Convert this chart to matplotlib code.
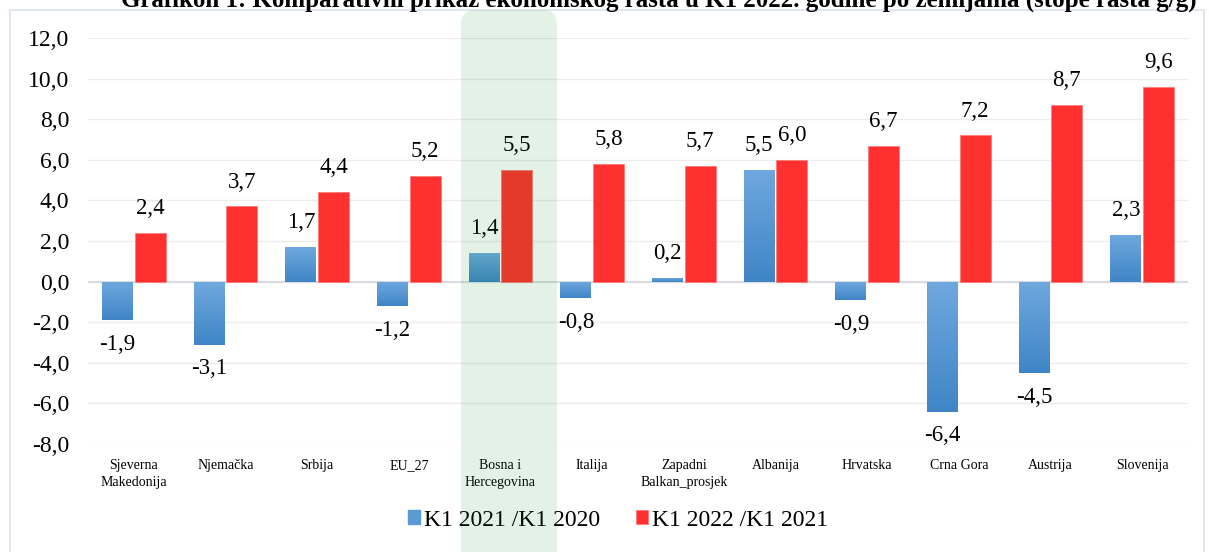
import numpy as np
import matplotlib
matplotlib.use("Agg")
import matplotlib.pyplot as plt
from matplotlib.colors import LinearSegmentedColormap
from matplotlib.patches import FancyBboxPatch, Rectangle

plt.rcParams["font.family"] = ["Liberation Serif", "DejaVu Serif"]

# Data
countries = ["Sjeverna\nMakedonija", "Njemačka", "Srbija", "EU_27", "Bosna i\nHercegovina",
             "Italija", "Zapadni\nBalkan_prosjek", "Albanija", "Hrvatska", "Crna Gora",
             "Austrija", "Slovenija"]
k1_2021 = [-1.9, -3.1, 1.7, -1.2, 1.4, -0.8, 0.2, 5.5, -0.9, -6.4, -4.5, 2.3]
k1_2022 = [2.4, 3.7, 4.4, 5.2, 5.5, 5.8, 5.7, 6.0, 6.7, 7.2, 8.7, 9.6]
series_names = ["K1 2021 /K1 2020", "K1 2022 /K1 2021"]
yticks = np.arange(-8, 12.1, 2)

BLUE = "#5b9bd5"
RED = "#ff3030"
blue_grad = LinearSegmentedColormap.from_list("bg", ["#3f85c6", "#6fa8de"])


def fmt(v):
    return f"{v:.1f}".replace(".", ",")


fig = plt.figure(figsize=(12.09, 5.52), dpi=100)
ax = fig.add_axes([88 / 1209, 1 - 444 / 552, 1100 / 1209, 406 / 552])

x = np.arange(len(countries))
w = 0.338
off = 0.178

blue_bars = ax.bar(x - off, k1_2021, w, color=BLUE, zorder=3, label=series_names[0])
red_bars = ax.bar(x + off, k1_2022, w, color=RED, edgecolor="#ff7a7a", linewidth=0.6,
                  zorder=3, label=series_names[1])

# gradient fill for the blue bars
grad = np.linspace(0, 1, 256).reshape(-1, 1)
for b in blue_bars:
    x0, y0, bw, bh = b.get_x(), b.get_y(), b.get_width(), b.get_height()
    top = max(y0, y0 + bh)
    bot = min(y0, y0 + bh)
    im = ax.imshow(grad, cmap=blue_grad, extent=(x0, x0 + bw, bot, top),
                   origin="lower", aspect="auto", zorder=3.5)
    im.set_clip_path(b)

for bars, vals in [(blue_bars, k1_2021), (red_bars, k1_2022)]:
    for b, v in zip(bars, vals):
        cx = b.get_x() + b.get_width() / 2
        dy = 17.5 if v >= 0 else -17.5
        ax.annotate(fmt(v), (cx, v), xytext=(0, dy), textcoords="offset points",
                    ha="center", va="center", fontsize=16.5, zorder=5)

ax.set_xlim(-0.5, len(countries) - 0.5)
ax.set_ylim(-8, 12)
ax.set_yticks(yticks)
ax.set_yticklabels([fmt(v) for v in yticks], fontsize=17)
ax.set_xticks(x)
ax.set_xticklabels(countries, fontsize=10, va="top", linespacing=1.35)
ax.tick_params(axis="both", length=0)
ax.tick_params(axis="y", pad=13.5)
ax.tick_params(axis="x", pad=11)
ax.grid(axis="y", color="#ececec", linewidth=1, zorder=0)
ax.axhline(0, color="#d9dde3", linewidth=1.5, zorder=2)
for s in ax.spines.values():
    s.set_visible(False)
ax.set_axisbelow(True)

leg = fig.legend(handles=[blue_bars, red_bars], labels=series_names, loc="center",
                 bbox_to_anchor=(618 / 1209, 1 - 520 / 552), ncol=2, frameon=False,
                 fontsize=17, handlelength=0.5, handleheight=0.5, handletextpad=0.17,
                 columnspacing=1.5)
leg.legend_handles[0].set_color(BLUE)

# chart frame
fig.patches.append(Rectangle((10 / 1209, -0.05), 1194 / 1209, 1 - 10 / 552 + 0.05,
                             transform=fig.transFigure, fill=False, edgecolor="#dce3ec",
                             linewidth=1.2, zorder=0))

# highlight band for Bosna i Hercegovina
fig.patches.append(FancyBboxPatch((461 / 1209, -0.1), 96 / 1209, 1 - 10 / 552 + 0.1,
                                  boxstyle="round,pad=0,rounding_size=0.012",
                                  transform=fig.transFigure, facecolor="#008d14",
                                  edgecolor="none", alpha=0.11, zorder=10,
                                  mutation_aspect=1209 / 552))

fig.text(0.545, 1 - 7 / 552,
         "Grafikon 1: Komparativni prikaz ekonomskog rasta u K1 2022. godine po zemljama (stope rasta g/g)",
         ha="center", va="baseline", fontsize=18, fontweight="bold")

fig.savefig("out.png", dpi=100)
